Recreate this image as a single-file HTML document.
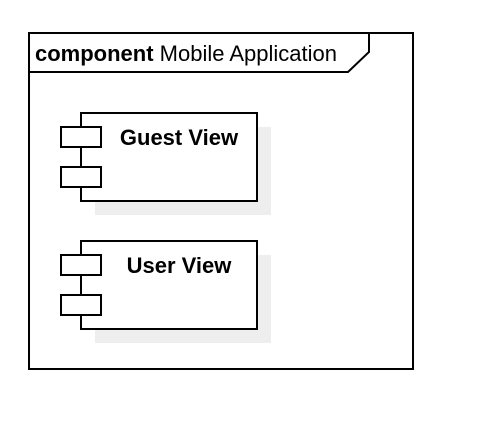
<!DOCTYPE html>
<html><head><style>body{margin:0;background:#fff}</style></head><body>
<svg width="498" height="436" xmlns="http://www.w3.org/2000/svg" style="display:block">
<rect x="0" y="0" width="498" height="436" fill="#fff"/>
<rect x="29" y="33" width="384" height="336" fill="#fff" stroke="#000" stroke-width="2"/>
<polyline points="29,72 348,72 369,52 369,33" fill="none" stroke="#000" stroke-width="2"/>
<text x="35" y="61" font-family="Liberation Sans, sans-serif" font-size="22"><tspan font-weight="bold">component</tspan> Mobile Application</text>
<g>
<rect x="95" y="127" width="176" height="88" fill="#eee"/>
<rect x="81" y="113" width="176" height="88" fill="#fff" stroke="#000" stroke-width="2"/>
<rect x="61" y="127" width="40" height="20" fill="#fff" stroke="#000" stroke-width="2"/>
<rect x="61" y="167" width="40" height="20" fill="#fff" stroke="#000" stroke-width="2"/>
<text x="179" y="145" text-anchor="middle" font-family="Liberation Sans, sans-serif" font-size="22" font-weight="bold">Guest View</text>
</g>
<g>
<rect x="95" y="255" width="176" height="88" fill="#eee"/>
<rect x="81" y="241" width="176" height="88" fill="#fff" stroke="#000" stroke-width="2"/>
<rect x="61" y="255" width="40" height="20" fill="#fff" stroke="#000" stroke-width="2"/>
<rect x="61" y="295" width="40" height="20" fill="#fff" stroke="#000" stroke-width="2"/>
<text x="179" y="273" text-anchor="middle" font-family="Liberation Sans, sans-serif" font-size="22" font-weight="bold">User View</text>
</g>
</svg>
</body></html>
